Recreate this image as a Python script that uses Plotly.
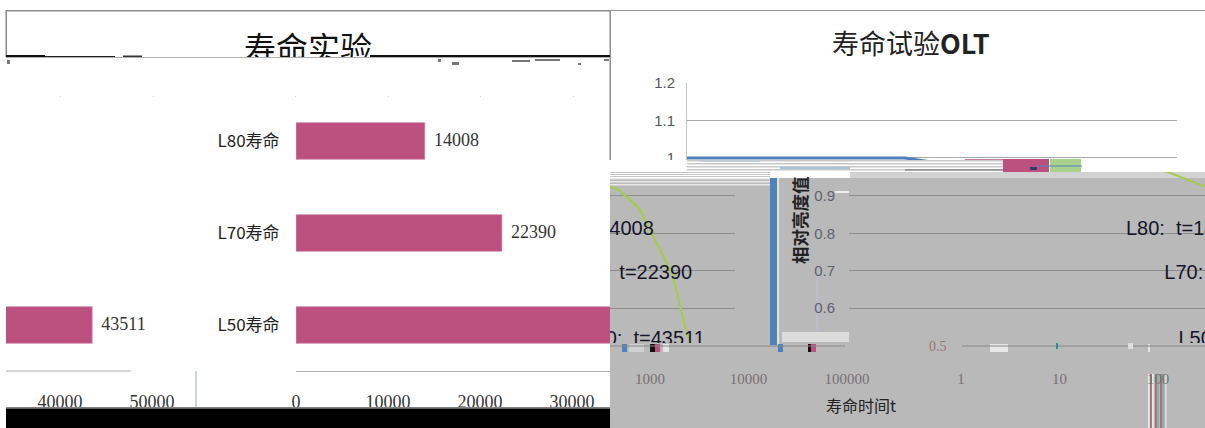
import plotly.graph_objects as go

# ---------- data ----------
life_labels = ["L80寿命", "L70寿命", "L50寿命"]
life_hours = [14008, 22390, 43511]
bar_ticks_main = [0, 10000, 20000, 30000]
bar_ticks_wrap = [40000, 50000]
curve_t = [1, 10, 100, 167, 300, 600, 1000, 1800, 4295, 5300, 8500, 11500, 18600, 25700, 29000]
curve_l = [1.0, 1.0, 1.0, 1.0, 0.99, 0.985, 0.98, 0.964, 0.925, 0.915, 0.867, 0.8, 0.69, 0.538, 0.5]
note_t = [670, 1650, 2300]
note_l = [0.81, 0.692, 0.515]
note_text = ["L80: \u00a0t=14008", "L70: \u00a0t=22390", "L50: \u00a0t=43511"]
top_ticks = [1, 1.1, 1.2]
low_ticks = [0.6, 0.7, 0.8, 0.9]
log_ticks_a = [1, 10, 100]
log_ticks_b = [1000, 10000, 100000]

W, H = 1205, 428
CJK = "Noto Sans CJK SC"
PINK = "#bc5180"
BLUE = "#4f81bd"
GREEN = "#a6cb4e"
GRAY = "#b9b9b9"
CLEAR = "rgba(0,0,0,0)"


def dx(a, b):
    return [a / W, b / W]


def dy(top, bottom):
    return [1 - bottom / H, 1 - top / H]


fig = go.Figure()

# bars (same data through the main axis and the wrapped piece)
for xa, ya in (("x", "y"), ("x2", "y2")):
    fig.add_bar(x=life_hours, y=life_labels, orientation="h", width=0.4, xaxis=xa, yaxis=ya,
                marker=dict(color=PINK, line=dict(color="#dba6bf", width=0.6)), hoverinfo="skip", showlegend=False)
    fig.add_scatter(x=life_hours, y=life_labels, mode="text", xaxis=xa, yaxis=ya,
                    text=["\u00a0\u00a0" + str(v) for v in life_hours], textposition="middle right",
                    textfont=dict(family="Liberation Serif, " + CJK, size=18, color="#333"),
                    cliponaxis=True, hoverinfo="skip", showlegend=False)

# clipped title of the left chart
fig.add_scatter(x=[0.5], y=[0.1], mode="text", text=["寿命实验"], xaxis="x3", yaxis="y3",
                textfont=dict(family=CJK, size=32, color="#111"), cliponaxis=True,
                hoverinfo="skip", showlegend=False)

# top part of curve
fig.add_scatter(x=curve_t, y=curve_l, mode="lines", xaxis="x4", yaxis="y4",
                line=dict(color=BLUE, width=3), hoverinfo="skip", showlegend=False)

# lower parts of curve and notes
for xa, ya in (("x5", "y5"), ("x6", "y6")):
    fig.add_scatter(x=curve_t, y=curve_l, mode="lines", xaxis=xa, yaxis=ya,
                    line=dict(color=GREEN, width=2.2), hoverinfo="skip", showlegend=False)
    fig.add_scatter(x=note_t, y=note_l, mode="text", xaxis=xa, yaxis=ya, text=note_text,
                    textposition="middle right",
                    textfont=dict(family="Liberation Sans, " + CJK, size=20, color="#15152a"),
                    cliponaxis=True, hoverinfo="skip", showlegend=False)

# invisible anchors for the shifted log tick label row
fig.add_scatter(x=log_ticks_a, y=[0, 0, 0], mode="markers", xaxis="x7", yaxis="y7", opacity=0,
                hoverinfo="skip", showlegend=False)
fig.add_scatter(x=log_ticks_b, y=[0, 0, 0], mode="markers", xaxis="x8", yaxis="y8", opacity=0,
                hoverinfo="skip", showlegend=False)

bar_font = dict(family="Liberation Serif, " + CJK, size=18, color="#333")
range_main = [0, 34130]
range_wrap = [34130, 34130 + 190 / 0.0092]
hidden = dict(visible=False, showgrid=False, zeroline=False, fixedrange=True)
cat_axis = dict(type="category", categoryorder="array", categoryarray=life_labels, range=[2.5, -0.5],
                domain=dy(95, 371), showgrid=False, zeroline=False, showline=False)
log_font = dict(family="Liberation Serif", size=15, color="#7a6f72")
tick_font = dict(family="Liberation Sans", size=15, color="#555")
low_range_y = [0.5 + 2.5 / 373, 1 - (170 - 158.5) / 373]

fig.update_layout(
    template="none",
    width=W, height=H, margin=dict(l=0, r=0, t=0, b=0, pad=0), autosize=False,
    paper_bgcolor="white", plot_bgcolor=CLEAR, showlegend=False,
    xaxis=dict(domain=dx(296, 610), range=range_main, tickvals=bar_ticks_main,
               ticktext=[str(v) for v in bar_ticks_main], tickfont=bar_font,
               ticks="outside", ticklen=14, tickcolor=CLEAR, showgrid=False, zeroline=False,
               showline=True, linecolor="#aeaeae", linewidth=1, anchor="y"),
    yaxis=dict(cat_axis, anchor="x", ticks="outside", ticklen=12, tickcolor=CLEAR,
               tickfont=dict(family=CJK, size=17, color="#222")),
    xaxis2=dict(domain=dx(6, 196), range=range_wrap, tickvals=bar_ticks_wrap,
                ticktext=[str(v) for v in bar_ticks_wrap], tickfont=bar_font,
                ticks="outside", ticklen=14, tickcolor=CLEAR, showgrid=False, zeroline=False,
                showline=False, anchor="y2"),
    yaxis2=dict(cat_axis, anchor="x2", showticklabels=False),
    xaxis3=dict(hidden, domain=dx(6, 610), range=[0, 1], anchor="y3"),
    yaxis3=dict(hidden, domain=dy(11, 57), range=[0, 1], anchor="x3"),
    xaxis4=dict(type="log", domain=dx(687, 1177), range=[0, 5], showgrid=False, zeroline=False,
                showticklabels=False, ticks="", anchor="y4"),
    yaxis4=dict(domain=dy(83, 160), range=[1 - 2 / 373, 1.2], tickvals=top_ticks, ticktext=["1", "1.1", "1.2"],
                tickfont=tick_font, ticks="outside", ticklen=8, tickcolor=CLEAR, showgrid=True,
                gridcolor="#a8a8a8", gridwidth=1, zeroline=False, showline=True, linecolor="#c4c4c4",
                linewidth=1, anchor="x4"),
    xaxis5=dict(type="log", domain=dx(849, 1205), range=[0, 356 / 98], showgrid=False, zeroline=False,
                showticklabels=False, ticks="", anchor="y5"),
    yaxis5=dict(domain=dy(170, 343), range=low_range_y, tickvals=low_ticks,
                ticktext=[str(v) for v in low_ticks], tickfont=dict(tick_font, color="#5f5f70"),
                ticks="outside", ticklen=10, tickcolor=CLEAR, showgrid=True, gridcolor="#8c8c8c",
                gridwidth=1, zeroline=False, showline=False, anchor="x5"),
    xaxis6=dict(type="log", domain=dx(610, 735), range=[356 / 98, 481 / 98], showgrid=False, zeroline=False,
                showticklabels=False, ticks="", anchor="y6"),
    yaxis6=dict(domain=dy(170, 343), range=low_range_y, tickvals=low_ticks, showticklabels=False, ticks="",
                showgrid=True, gridcolor="#8c8c8c", gridwidth=1, zeroline=False, showline=False, anchor="x6"),
    xaxis7=dict(type="log", domain=dx(905, 1205), range=[-56 / 98.5, 244 / 98.5], tickvals=log_ticks_a,
                ticktext=[str(v) for v in log_ticks_a], tickfont=log_font, ticks="outside", ticklen=11,
                tickcolor=CLEAR, showgrid=False, zeroline=False, anchor="y7"),
    yaxis7=dict(hidden, domain=dy(350, 354), range=[-1, 1], anchor="x7"),
    xaxis8=dict(type="log", domain=dx(610, 905), range=[3 - 40 / 98.5, 3 + 255 / 98.5], tickvals=log_ticks_b,
                ticktext=[str(v) for v in log_ticks_b], tickfont=log_font, ticks="outside", ticklen=11,
                tickcolor=CLEAR, showgrid=False, zeroline=False, anchor="y8"),
    yaxis8=dict(hidden, domain=dy(350, 354), range=[-1, 1], anchor="x8"),
)

shapes = []


def rect(x0, y0, x1, y1, color, layer="below"):
    shapes.append(dict(type="rect", xref="paper", yref="paper", x0=x0 / W, x1=x1 / W,
                       y0=1 - y0 / H, y1=1 - y1 / H, fillcolor=color, line=dict(width=0), layer=layer))


# grey panel and light bands
rect(610, 178, 1205, 428, GRAY)
rect(850, 172, 1205, 178, "#d2d2d2")
for top in (178, 181, 184):
    rect(610, top, 770, top + 1.6, "#e8e8e8")
rect(610, 172, 770, 178, "white")
for top in (172, 174, 176):
    rect(610, top, 770, top + 1, "#c6c6c6")
rect(782, 332, 849, 342, "#dcdcdc")
rect(777, 178, 779, 345, "#dfe9c8")
rect(770, 178, 777, 345, BLUE)
rect(816.5, 275, 818, 330, "#bcbce0")
rect(835, 191, 849, 193, "#eeeeee")
rect(782, 172, 850, 178, "white")

# stripes in the tear row
for top in (160, 163, 166, 169):
    rect(687, top, 1003, top + 1.5, "#c8c8c8")
rect(780, 167, 850, 169, "#a9c4e0")
rect(700, 161, 760, 162, "#bcd0e6")
rect(905, 169.5, 1003, 170.5, "#666666")
rect(965, 159, 1003, 160, "#c77a9c")
rect(1003, 159, 1049, 172, PINK)
rect(1050, 159, 1081, 172, "#a9d18e")
rect(1035, 165.5, 1082, 166.5, BLUE)
rect(1030, 167, 1037, 170, "#3a3a66")

# legend fragments at the axis row
for x0, x1, c in [(622, 627, BLUE), (629, 644, "#d0d0d0"), (650, 655, "#111111"), (655, 660, PINK),
                  (663, 669, "#e4e4e4"), (778, 783, BLUE), (808, 811, "#111111"), (811, 816, PINK),
                  (990, 1008, "#e8e8e8"), (1148, 1150, "#e4e4e4")]:
    rect(x0, 344, x1, 352, c)
rect(610, 345.5, 845, 346.5, "#888888")
rect(962, 345.5, 1205, 346.5, "#888888")
rect(1056, 343, 1058, 349, "#2f8f85")
rect(1128, 343, 1133, 349, "#dddddd")

# colored stripes below the 100 label
for x0, c in [(1148, "#e0e8e8"), (1150, "#b06a6a"), (1152, "#d8eeee"), (1155, "#b06a6a"), (1157, "#7fb3b3"),
              (1160, "#b06a6a"), (1162, "#70b0b0"), (1165, "#d8d8d8")]:
    rect(x0, 374, x0 + 1.8, 428, c)

# frames around charts
rect(6, 10, 610, 11.5, "#8a8a8a")
rect(610, 10, 1205, 11, "#9a9a9a")
rect(5.5, 10, 7, 57, "#8a8a8a")
rect(609.5, 10, 611, 160, "#8f8f8f")
rect(6, 57, 610, 58, "#b0b0b0")
rect(6, 55, 45, 57, "#111111")
rect(45, 56, 115, 57, "#222222")
rect(123, 55.5, 142, 57, "#333333")
rect(370, 55, 610, 57, "#111111")

# specks under the title break
for x0, y0, x1, y1 in [(7, 60, 10, 64), (438, 59, 441, 62), (452, 62, 459, 65), (512, 60, 530, 62),
                       (535, 59, 560, 61), (578, 63, 581, 65), (604, 59, 609, 61)]:
    rect(x0, y0, x1, y1, "#777777")
for x0 in (60, 153, 295, 388, 480, 573):
    rect(x0, 96, x0 + 1, 97, "#cccccc")

# axis pieces of the left chart
rect(6, 370.5, 131, 371.5, "#aeaeae")
rect(195.5, 371, 196.5, 408, "#8fb4b8")

# things that cover tick labels
rect(6, 407, 610, 408.5, "#808080", "above")
rect(6, 408.5, 610, 428, "black", "above")
rect(610, 160, 687, 172, "white", "above")
rect(1082, 160, 1205, 172, "white", "above")
fig.update_layout(shapes=shapes)


def note(text, x, y, size, color, family=CJK, angle=0):
    fig.add_annotation(text=text, xref="paper", yref="paper", x=x / W, y=1 - y / H, showarrow=False,
                       font=dict(family=family, size=size, color=color), textangle=angle,
                       xanchor="center", yanchor="middle")


note("寿命试验<b>OLT</b>", 911, 43, 27, "#222")
note("<b>相对亮度值</b>", 800, 220, 17.5, "#222", angle=-90)
note("寿命时间t", 861, 405, 16, "#222")
note("0.5", 938, 346, 14, "#a07070", "Liberation Serif")

fig.write_html("out.html", config=dict(displayModeBar=False),
               post_script="document.body.style.margin='0';document.documentElement.style.overflow='hidden';")
